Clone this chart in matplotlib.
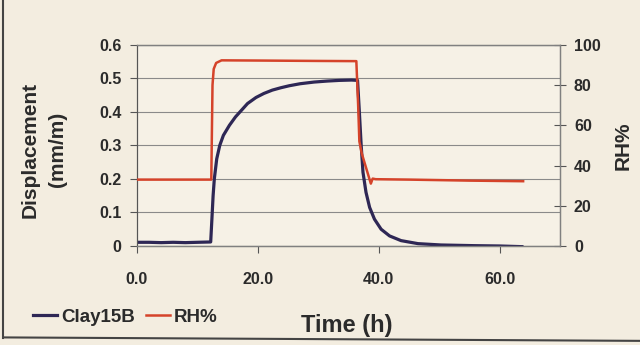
import matplotlib
matplotlib.use("Agg")
import matplotlib.pyplot as plt
from matplotlib.lines import Line2D

plt.rcParams['font.family'] = ['Liberation Sans', 'DejaVu Sans']
plt.rcParams['font.weight'] = 'bold'
plt.rcParams['axes.labelweight'] = 'bold'

# Clay15B displacement (mm/m)
clay_t = [0, 2, 4, 6, 8, 10, 12.2, 12.4, 12.6, 12.8, 13.2, 13.7, 14.3, 15.3, 16.3, 17.3,
          18.3, 19.7, 21.0, 22.4, 23.8, 25.2, 27.0, 29.3, 31.5, 33.5, 35.5, 36.5,
          36.8, 37.1, 37.4, 37.9, 38.5, 39.3, 40.4, 41.8, 43.7, 46.5, 50.3, 55.8, 60.0, 63.7]
clay_v = [0.011, 0.011, 0.010, 0.011, 0.010, 0.011, 0.012, 0.08, 0.15, 0.20, 0.26, 0.30,
          0.33, 0.36, 0.385, 0.405, 0.425, 0.443, 0.455, 0.465, 0.472, 0.478, 0.484,
          0.489, 0.492, 0.494, 0.495, 0.494, 0.40, 0.30, 0.22, 0.16, 0.115, 0.08, 0.05,
          0.03, 0.016, 0.007, 0.003, 0.001, 0.0, -0.002]

# RH %
rh_t = [0, 6, 12.3, 12.5, 12.7, 13.1, 14.0, 20, 30, 36.3, 36.6, 36.8, 37.2, 37.8, 38.3,
        38.7, 39.0, 39.5, 45, 55, 63.9]
rh_v = [33.0, 33.0, 33.0, 80, 88, 91, 92.3, 92.2, 92.0, 91.9, 70, 52, 46, 40, 35,
        31, 33.5, 33.2, 33.0, 32.5, 32.2]

x_ticks = [0, 20, 40, 60]
x_labels = ['0.0', '20.0', '40.0', '60.0']
left_ticks = [0, 0.1, 0.2, 0.3, 0.4, 0.5, 0.6]
left_labels = ['0', '0.1', '0.2', '0.3', '0.4', '0.5', '0.6']
right_ticks = [0, 20, 40, 60, 80, 100]

bg = '#f3ede0'
txt = '#2b2b2b'
clay_col = '#2e2755'
rh_col = '#d5432a'

fig = plt.figure(figsize=(6.4, 3.45), dpi=100, facecolor=bg)
ax = fig.add_axes([0.214, 0.287, 0.661, 0.583])
ax.set_facecolor('#f6f1e6')

ax.plot(clay_t, clay_v, color=clay_col, lw=2.3, zorder=3)
ax.set_xlim(0, 70)
ax.set_ylim(0, 0.6)
ax.set_xticks(x_ticks)
ax.set_xticklabels(x_labels)
ax.set_yticks(left_ticks)
ax.set_yticklabels(left_labels)
ax.grid(axis='y', color='#8a8a8a', lw=0.8)
ax.tick_params(axis='both', colors='#555555', labelcolor=txt, labelsize=11.5)
ax.tick_params(axis='y', direction='out', length=5, pad=6)
ax.tick_params(axis='x', direction='out', length=5, pad=14)
ax.set_ylabel('Displacement\n(mm/m)', fontsize=15, color=txt, linespacing=1.6)
ax.yaxis.set_label_coords(-0.165, 0.48)
ax.set_xlabel('Time (h)', fontsize=17, color=txt)
ax.xaxis.set_label_coords(0.496, -0.34)

ax2 = ax.twinx()
ax2.plot(rh_t, rh_v, color=rh_col, lw=1.8, zorder=4)
ax2.set_ylim(0, 100)
ax2.set_yticks(right_ticks)
ax2.tick_params(axis='y', direction='inout', length=8, colors='#555555',
                labelcolor=txt, labelsize=11.5, pad=6)
ax2.set_ylabel('RH%', fontsize=15, color=txt, labelpad=9)

for a in (ax, ax2):
    for s in ('top', 'right', 'bottom'):
        a.spines[s].set_color('#808080')
        a.spines[s].set_linewidth(0.9)
    a.spines['left'].set_color('#555555')

handles = [Line2D([], [], color=clay_col, lw=2.3), Line2D([], [], color=rh_col, lw=1.8)]
fig.legend(handles, ['Clay15B', 'RH%'], loc='center left', bbox_to_anchor=(0.025, 0.08),
           ncol=2, frameon=False, handlelength=1.3, handletextpad=0.2,
           columnspacing=0.6, prop={'weight': 'bold', 'size': 13.5}, labelcolor=txt)

# frame of the scanned figure
fig.add_artist(Line2D([0.005, 0.005], [0.02, 1.0], color='#444444', lw=1.5,
                      transform=fig.transFigure))
fig.add_artist(Line2D([0.005, 1.0], [0.022, 0.012], color='#444444', lw=1.5,
                      transform=fig.transFigure))

fig.savefig('out.png', dpi=100, facecolor=bg)
